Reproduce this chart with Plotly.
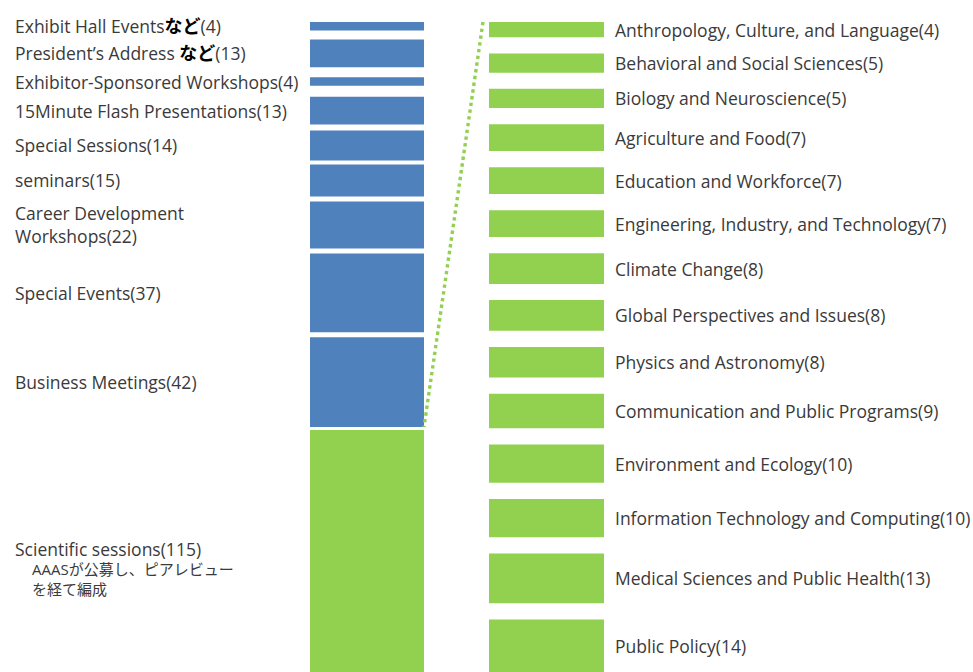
import plotly.graph_objects as go

# ---- data ----
left_labels = ["Exhibit Hall Eventsなど", "President’s Address など", "Exhibitor-Sponsored Workshops",
               "15Minute Flash Presentations", "Special Sessions", "seminars",
               "Career Development<br>Workshops", "Special Events", "Business Meetings"]
left_values = [4, 13, 4, 13, 14, 15, 22, 37, 42]

right_labels = ["Anthropology, Culture, and Language", "Behavioral and Social Sciences",
                "Biology and Neuroscience", "Agriculture and Food", "Education and Workforce",
                "Engineering, Industry, and Technology", "Climate Change",
                "Global Perspectives and Issues", "Physics and Astronomy",
                "Communication and Public Programs", "Environment and Ecology",
                "Information Technology and Computing", "Medical Sciences and Public Health",
                "Public Policy"]
right_values = [4, 5, 5, 7, 7, 7, 8, 8, 8, 9, 10, 10, 13, 14]

scientific_label = "Scientific sessions"
scientific_note = "AAASが公募し、ピアレビュー<br>を経て編成"
scientific_total = sum(right_values)

# ---- layout / style constants ----
W, H = 973, 672
TOP = 22
S_L, S_R = 2.134, 3.83                      # px per unit on left / right axis
GAPS_L_PX = [9, 10, 11, 6, 4, 5, 5, 5, 3]   # white gaps below each left segment (px)
GAP_R_PX = 16.2
PX_PER_X = 179.5
X0_PX = 367
BW_L, BW_R = 114 / PX_PER_X, 115 / PX_PER_X
BLUE = "#4F81BD"
GREEN = "#92D050"
TXT = "#3a3a3a"
FONT = "Open Sans, Noto Sans CJK JP, sans-serif"
FS = 17.5

# stacked bases with gaps
left_bases = []
cum = 0.0
for v, g in zip(left_values, GAPS_L_PX):
    left_bases.append(cum)
    cum += v + g / S_L
blue_end = left_bases[-1] + left_values[-1]
sci_base = blue_end + GAPS_L_PX[-1] / S_L

right_bases = []
cum = 0.0
for v in right_values:
    right_bases.append(cum)
    cum += v + GAP_R_PX / S_R

fig = go.Figure()
fig.add_trace(go.Bar(x=[0] * len(left_values), y=left_values, base=left_bases, width=BW_L,
                     marker=dict(color=BLUE, line=dict(width=0)), yaxis="y", showlegend=False))
fig.add_trace(go.Bar(x=[0], y=[scientific_total], base=[sci_base], width=BW_L,
                     marker=dict(color=GREEN, line=dict(width=0)), yaxis="y", showlegend=False))
fig.add_trace(go.Bar(x=[1] * len(right_values), y=right_values, base=right_bases, width=BW_R,
                     marker=dict(color=GREEN, line=dict(width=0)), yaxis="y2", showlegend=False))

# dotted connector: top-left of right bar -> bottom-right of blue part
fig.add_trace(go.Scatter(x=[1 - BW_R / 2 - 6 / PX_PER_X, BW_L / 2], y=[0, blue_end],
                         mode="lines", line=dict(color=GREEN, width=3.4, dash="dot"),
                         yaxis="y", showlegend=False, hoverinfo="skip"))

annotations = []
for lab, v, b in zip(left_labels, left_values, left_bases):
    lab_html = lab.replace("など", "<b><span style='color:#000000;font-size:18px'>など</span></b>")
    annotations.append(dict(x=12.5 / W, xref="paper", y=b + v / 2, yref="y", xanchor="left",
                            yanchor="middle", align="left", showarrow=False,
                            text=f"{lab_html}({v})", font=dict(size=FS, color=TXT, family=FONT)))
sci_mid = sci_base + scientific_total / 2
annotations.append(dict(x=12.5 / W, xref="paper", y=sci_mid, yref="y", xanchor="left",
                        yanchor="middle", align="left", showarrow=False, yshift=4,
                        text=f"{scientific_label}({scientific_total})",
                        font=dict(size=FS, color=TXT, family=FONT)))
annotations.append(dict(x=30 / W, xref="paper", y=sci_mid, yref="y", xanchor="left",
                        yanchor="middle", align="left", showarrow=False, yshift=-26,
                        text=scientific_note, font=dict(size=15, color=TXT, family=FONT)))
for lab, v, b in zip(right_labels, right_values, right_bases):
    annotations.append(dict(x=612.5 / W, xref="paper", y=b + v / 2, yref="y2", xanchor="left",
                            yanchor="middle", align="left", showarrow=False,
                            text=f"{lab}({v})", font=dict(size=FS, color=TXT, family=FONT)))

axis_off = dict(showgrid=False, zeroline=False, showticklabels=False, showline=False, ticks="")
fig.update_layout(
    width=W, height=H, margin=dict(l=0, r=0, t=0, b=0),
    paper_bgcolor="white", plot_bgcolor="white", barmode="overlay",
    xaxis=dict(range=[-X0_PX / PX_PER_X, (W - X0_PX) / PX_PER_X], fixedrange=True, **axis_off),
    yaxis=dict(range=[(H - TOP) / S_L, -TOP / S_L], fixedrange=True, **axis_off),
    yaxis2=dict(range=[(H - TOP) / S_R, -TOP / S_R], overlaying="y", fixedrange=True, **axis_off),
    annotations=annotations,
    font=dict(family=FONT, color=TXT),
)
fig.write_html("out.html")
